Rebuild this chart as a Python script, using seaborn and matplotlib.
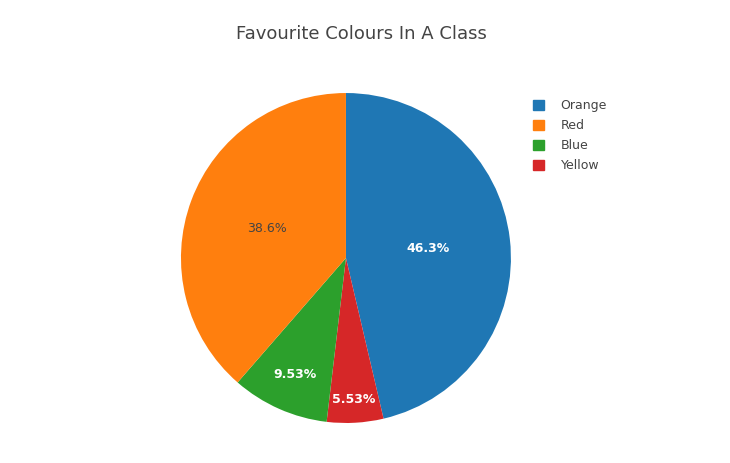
import numpy as np
import seaborn as sns
import matplotlib.pyplot as plt
from matplotlib.patches import Patch

# Data (legend order)
labels = ["Orange", "Red", "Blue", "Yellow"]
values = [46.34, 38.6, 9.53, 5.53]

# drawing order, clockwise from 12 o'clock
draw_order = ["Orange", "Yellow", "Blue", "Red"]

sns.set_theme(style="white")
plt.rcParams['font.family'] = ['DejaVu Sans']

palette = sns.color_palette("tab10", 4)
colours = dict(zip(labels, palette))
text_col = {"Orange": "white", "Red": "#444444", "Blue": "white", "Yellow": "white"}
label_dist = {"Orange": 0.5, "Yellow": 0.86, "Blue": 0.77, "Red": 0.51}

fig = plt.figure(figsize=(7.3, 4.63), dpi=100)
ax = fig.add_axes([0.2479, 0.0864, 0.452, 0.7127])

vals = [values[labels.index(l)] for l in draw_order]
wedges, texts, autotexts = ax.pie(
    vals,
    colors=[colours[l] for l in draw_order],
    startangle=90,
    counterclock=False,
    autopct=lambda p: f"{p:.3g}%",
    wedgeprops=dict(linewidth=0),
    radius=1,
)
ax.set_xlim(-1, 1)
ax.set_ylim(-1, 1)
ax.set_aspect("equal")

# move percentage labels roughly where plotly puts them
for w, t, name in zip(wedges, autotexts, draw_order):
    mid = np.deg2rad((w.theta1 + w.theta2) / 2)
    d = label_dist[name]
    t.set_position((d * np.cos(mid), d * np.sin(mid)))
    t.set_color(text_col[name])
    t.set_fontsize(9)
    if text_col[name] == "white":
        t.set_fontweight("bold")
    t.set_ha("center")
    t.set_va("center")

fig.suptitle("Favourite Colours In A Class", x=0.495, y=0.945,
             fontsize=13, color="#444444")

handles = [Patch(facecolor=colours[l], edgecolor=colours[l]) for l in labels]
fig.legend(handles, labels, loc="upper left", bbox_to_anchor=(0.715, 0.81),
           frameon=False, fontsize=9, handlelength=0.9, handleheight=0.9,
           handletextpad=1.3, labelspacing=0.56, labelcolor="#444444")

fig.savefig("out.png", dpi=100)
